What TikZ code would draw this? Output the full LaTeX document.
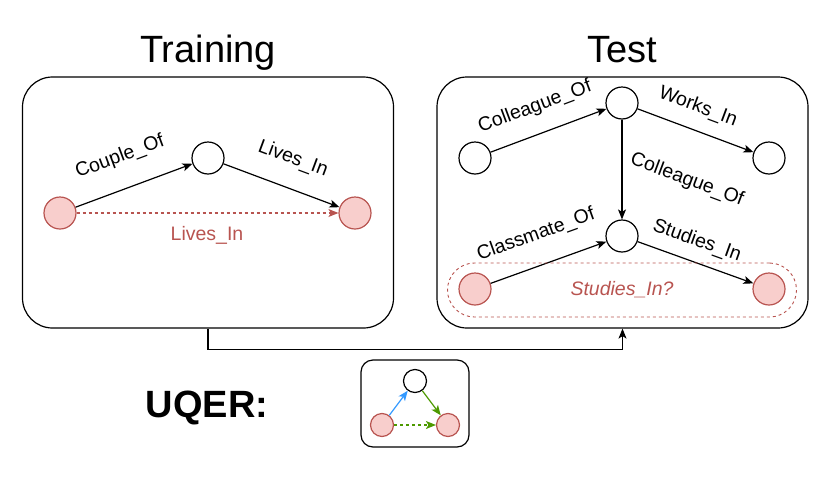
\documentclass[tikz,border=0pt]{standalone}
\usepackage{fontspec}
\setmainfont{Liberation Sans}
\usetikzlibrary{arrows.meta}

\newcommand{\lblfont}{\fontsize{19.5}{23}\selectfont}
\newcommand{\titlefont}{\fontsize{38}{44}\selectfont}

\begin{document}
\begin{tikzpicture}[x=1pt, y=-1pt, line width=1.2pt]

\definecolor{c_query_fill}{HTML}{F8CECC}
\definecolor{c_query_draw}{HTML}{B85450}
\definecolor{c_blue}{HTML}{3399FF}
\definecolor{c_green}{HTML}{4D9900}

\tikzset{
  ent/.style = {circle, draw, fill = white, minimum size = 32pt, inner sep = 0pt},
  qent/.style = {ent, draw = c_query_draw, fill = c_query_fill},
  rel/.style = {-{Stealth[length = 10pt, width = 8pt, inset = 2.5pt]}},
  lbl/.style = {font = \lblfont, inner sep = 0pt},
  panel/.style = {draw, rounded corners = 30pt, minimum width = 371pt, minimum height = 251pt}
}

\useasboundingbox (0, 0) rectangle (830, 477);

% Panels and titles
\node (train) at (208, 202.5) [panel] {};
\node (test) at (622.5, 202.5) [panel] {};
\node (traintitle) at (208, 62) [anchor = base, font = \titlefont] {Training};
\node (testtitle) at (622, 62) [anchor = base, font = \titlefont] {Test};

% Training graph
\node (trA) at (60, 213) [qent] {};
\node (trB) at (208, 158) [ent] {};
\node (trC) at (355, 213) [qent] {};

\draw [rel] (trA) -- (trB);
\draw [rel] (trB) -- (trC);
\draw [rel, c_query_draw, dash pattern = on 3pt off 3pt] (trA) -- (trC);

\node (lblcouple) at (120, 157) [lbl, rotate = 20.4] {Couple\_Of};
\node (lbllives) at (293, 159) [lbl, rotate = -20.4] {Lives\_In};
\node (lblquery) at (207, 235) [lbl, text = c_query_draw] {Lives\_In};

% Test graph
\node (tsA) at (475, 158) [ent] {};
\node (tsB) at (622, 103) [ent] {};
\node (tsC) at (769, 158) [ent] {};
\node (tsD) at (622, 236) [ent] {};
\node (tsE) at (475, 289) [qent] {};
\node (tsF) at (769, 289) [qent] {};

\draw [rel] (tsA) -- (tsB);
\draw [rel] (tsB) -- (tsC);
\draw [rel] (tsB) -- (tsD);
\draw [rel] (tsE) -- (tsD);
\draw [rel] (tsD) -- (tsF);

\node (lblcoltop) at (535, 107) [lbl, rotate = 20.5] {Colleague\_Of};
\node (lblworks) at (698, 107) [lbl, rotate = -20.5] {Works\_In};
\node (lblcolmid) at (687, 180) [lbl, rotate = -20.5] {Colleague\_Of};
\node (lblclass) at (536, 235) [lbl, rotate = 19.8] {Classmate\_Of};
\node (lblstudies) at (697, 241) [lbl, rotate = -19.8] {Studies\_In};

% Query region
\node (query) at (622, 290) [draw = c_query_draw, line width = 0.9pt, dash pattern = on 3pt off 3pt,
  rounded corners = 27pt, minimum width = 349pt, minimum height = 54pt,
  font = \lblfont\itshape, text = c_query_draw] {Studies\_In?};

% Link between panels
\draw [rel] (train.south) -- ++(0, 21) -| (test.south);

% UQER legend
\node (uqer) at (207, 417) [anchor = base, font = \titlefont\bfseries] {UQER:};
\node (legend) at (415, 403.5) [draw, rounded corners = 12pt, minimum width = 108pt, minimum height = 87pt] {};

\node (lgB) at (415, 381) [ent, minimum size = 23pt] {};
\node (lgA) at (382, 425) [qent, minimum size = 23pt] {};
\node (lgC) at (448, 425) [qent, minimum size = 23pt] {};

\draw [rel, c_blue] (lgA) -- (lgB);
\draw [rel, c_green] (lgB) -- (lgC);
\draw [rel, c_green, dash pattern = on 3pt off 3pt] (lgA) -- (lgC);

\end{tikzpicture}
\end{document}
